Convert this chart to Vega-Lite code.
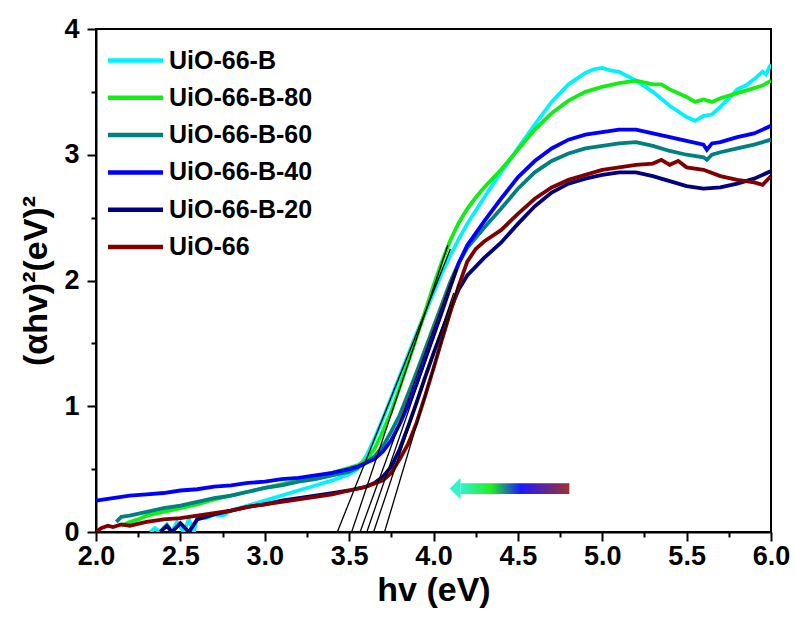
{
"$schema":"https://vega.github.io/schema/vega-lite/v6.json",
"width":675,"height":503,
"autosize":"none",
"padding":{"left":96,"top":29,"right":24,"bottom":87},
"background":"white",
"config":{"view":{"stroke":"black","strokeWidth":2},"font":"Liberation Sans"},
"datasets":{
"curves":[
{"s":"UiO-66-B","x":2.32,"y":0},{"s":"UiO-66-B","x":2.35,"y":0.03},{"s":"UiO-66-B","x":2.38,"y":0},{"s":"UiO-66-B","x":2.42,"y":0.06},{"s":"UiO-66-B","x":2.45,"y":0},{"s":"UiO-66-B","x":2.48,"y":0.08},{"s":"UiO-66-B","x":2.52,"y":0},{"s":"UiO-66-B","x":2.55,"y":0.1},{"s":"UiO-66-B","x":2.58,"y":0},{"s":"UiO-66-B","x":2.6,"y":0.12},{"s":"UiO-66-B","x":2.65,"y":0.11},{"s":"UiO-66-B","x":2.7,"y":0.14},{"s":"UiO-66-B","x":2.75,"y":0.13},{"s":"UiO-66-B","x":2.8,"y":0.17},{"s":"UiO-66-B","x":2.85,"y":0.19},{"s":"UiO-66-B","x":2.9,"y":0.21},{"s":"UiO-66-B","x":2.95,"y":0.23},{"s":"UiO-66-B","x":3.0,"y":0.25},{"s":"UiO-66-B","x":3.1,"y":0.29},{"s":"UiO-66-B","x":3.2,"y":0.33},{"s":"UiO-66-B","x":3.3,"y":0.37},{"s":"UiO-66-B","x":3.4,"y":0.41},{"s":"UiO-66-B","x":3.5,"y":0.46},{"s":"UiO-66-B","x":3.55,"y":0.5},{"s":"UiO-66-B","x":3.6,"y":0.6},{"s":"UiO-66-B","x":3.65,"y":0.74},{"s":"UiO-66-B","x":3.7,"y":0.9},{"s":"UiO-66-B","x":3.75,"y":1.07},{"s":"UiO-66-B","x":3.8,"y":1.24},{"s":"UiO-66-B","x":3.85,"y":1.41},{"s":"UiO-66-B","x":3.9,"y":1.58},{"s":"UiO-66-B","x":3.95,"y":1.74},{"s":"UiO-66-B","x":4.0,"y":1.9},{"s":"UiO-66-B","x":4.05,"y":2.06},{"s":"UiO-66-B","x":4.1,"y":2.2},{"s":"UiO-66-B","x":4.15,"y":2.33},{"s":"UiO-66-B","x":4.2,"y":2.45},{"s":"UiO-66-B","x":4.3,"y":2.66},{"s":"UiO-66-B","x":4.4,"y":2.86},{"s":"UiO-66-B","x":4.5,"y":3.05},{"s":"UiO-66-B","x":4.6,"y":3.24},{"s":"UiO-66-B","x":4.7,"y":3.42},{"s":"UiO-66-B","x":4.8,"y":3.56},{"s":"UiO-66-B","x":4.9,"y":3.65},{"s":"UiO-66-B","x":4.95,"y":3.68},{"s":"UiO-66-B","x":5.0,"y":3.69},{"s":"UiO-66-B","x":5.05,"y":3.67},{"s":"UiO-66-B","x":5.1,"y":3.66},{"s":"UiO-66-B","x":5.2,"y":3.59},{"s":"UiO-66-B","x":5.3,"y":3.5},{"s":"UiO-66-B","x":5.4,"y":3.39},{"s":"UiO-66-B","x":5.5,"y":3.3},{"s":"UiO-66-B","x":5.55,"y":3.27},{"s":"UiO-66-B","x":5.6,"y":3.31},{"s":"UiO-66-B","x":5.65,"y":3.32},{"s":"UiO-66-B","x":5.7,"y":3.38},{"s":"UiO-66-B","x":5.76,"y":3.46},{"s":"UiO-66-B","x":5.8,"y":3.52},{"s":"UiO-66-B","x":5.85,"y":3.55},{"s":"UiO-66-B","x":5.9,"y":3.6},{"s":"UiO-66-B","x":5.95,"y":3.66},{"s":"UiO-66-B","x":5.97,"y":3.64},{"s":"UiO-66-B","x":6.0,"y":3.72},
{"s":"UiO-66-B-80","x":2.15,"y":0.05},{"s":"UiO-66-B-80","x":2.2,"y":0.08},{"s":"UiO-66-B-80","x":2.25,"y":0.1},{"s":"UiO-66-B-80","x":2.3,"y":0.13},{"s":"UiO-66-B-80","x":2.4,"y":0.16},{"s":"UiO-66-B-80","x":2.5,"y":0.19},{"s":"UiO-66-B-80","x":2.6,"y":0.22},{"s":"UiO-66-B-80","x":2.7,"y":0.26},{"s":"UiO-66-B-80","x":2.8,"y":0.29},{"s":"UiO-66-B-80","x":2.9,"y":0.32},{"s":"UiO-66-B-80","x":3.0,"y":0.35},{"s":"UiO-66-B-80","x":3.1,"y":0.38},{"s":"UiO-66-B-80","x":3.2,"y":0.41},{"s":"UiO-66-B-80","x":3.3,"y":0.44},{"s":"UiO-66-B-80","x":3.4,"y":0.47},{"s":"UiO-66-B-80","x":3.5,"y":0.51},{"s":"UiO-66-B-80","x":3.55,"y":0.53},{"s":"UiO-66-B-80","x":3.6,"y":0.57},{"s":"UiO-66-B-80","x":3.65,"y":0.66},{"s":"UiO-66-B-80","x":3.7,"y":0.8},{"s":"UiO-66-B-80","x":3.75,"y":0.96},{"s":"UiO-66-B-80","x":3.8,"y":1.15},{"s":"UiO-66-B-80","x":3.85,"y":1.35},{"s":"UiO-66-B-80","x":3.9,"y":1.55},{"s":"UiO-66-B-80","x":3.95,"y":1.75},{"s":"UiO-66-B-80","x":4.0,"y":1.96},{"s":"UiO-66-B-80","x":4.05,"y":2.15},{"s":"UiO-66-B-80","x":4.1,"y":2.32},{"s":"UiO-66-B-80","x":4.15,"y":2.46},{"s":"UiO-66-B-80","x":4.2,"y":2.57},{"s":"UiO-66-B-80","x":4.25,"y":2.66},{"s":"UiO-66-B-80","x":4.3,"y":2.74},{"s":"UiO-66-B-80","x":4.4,"y":2.88},{"s":"UiO-66-B-80","x":4.5,"y":3.04},{"s":"UiO-66-B-80","x":4.6,"y":3.2},{"s":"UiO-66-B-80","x":4.7,"y":3.33},{"s":"UiO-66-B-80","x":4.8,"y":3.43},{"s":"UiO-66-B-80","x":4.9,"y":3.5},{"s":"UiO-66-B-80","x":5.0,"y":3.54},{"s":"UiO-66-B-80","x":5.1,"y":3.57},{"s":"UiO-66-B-80","x":5.2,"y":3.59},{"s":"UiO-66-B-80","x":5.3,"y":3.56},{"s":"UiO-66-B-80","x":5.35,"y":3.56},{"s":"UiO-66-B-80","x":5.4,"y":3.52},{"s":"UiO-66-B-80","x":5.5,"y":3.46},{"s":"UiO-66-B-80","x":5.55,"y":3.42},{"s":"UiO-66-B-80","x":5.6,"y":3.44},{"s":"UiO-66-B-80","x":5.65,"y":3.42},{"s":"UiO-66-B-80","x":5.7,"y":3.45},{"s":"UiO-66-B-80","x":5.8,"y":3.49},{"s":"UiO-66-B-80","x":5.9,"y":3.53},{"s":"UiO-66-B-80","x":5.95,"y":3.55},{"s":"UiO-66-B-80","x":6.0,"y":3.59},
{"s":"UiO-66-B-60","x":2.12,"y":0.08},{"s":"UiO-66-B-60","x":2.15,"y":0.12},{"s":"UiO-66-B-60","x":2.2,"y":0.13},{"s":"UiO-66-B-60","x":2.3,"y":0.16},{"s":"UiO-66-B-60","x":2.4,"y":0.19},{"s":"UiO-66-B-60","x":2.5,"y":0.21},{"s":"UiO-66-B-60","x":2.6,"y":0.24},{"s":"UiO-66-B-60","x":2.7,"y":0.27},{"s":"UiO-66-B-60","x":2.8,"y":0.29},{"s":"UiO-66-B-60","x":2.9,"y":0.32},{"s":"UiO-66-B-60","x":3.0,"y":0.35},{"s":"UiO-66-B-60","x":3.1,"y":0.37},{"s":"UiO-66-B-60","x":3.2,"y":0.4},{"s":"UiO-66-B-60","x":3.3,"y":0.42},{"s":"UiO-66-B-60","x":3.4,"y":0.45},{"s":"UiO-66-B-60","x":3.5,"y":0.48},{"s":"UiO-66-B-60","x":3.55,"y":0.51},{"s":"UiO-66-B-60","x":3.6,"y":0.55},{"s":"UiO-66-B-60","x":3.65,"y":0.6},{"s":"UiO-66-B-60","x":3.7,"y":0.68},{"s":"UiO-66-B-60","x":3.75,"y":0.8},{"s":"UiO-66-B-60","x":3.8,"y":0.93},{"s":"UiO-66-B-60","x":3.85,"y":1.1},{"s":"UiO-66-B-60","x":3.9,"y":1.27},{"s":"UiO-66-B-60","x":3.95,"y":1.45},{"s":"UiO-66-B-60","x":4.0,"y":1.63},{"s":"UiO-66-B-60","x":4.05,"y":1.81},{"s":"UiO-66-B-60","x":4.1,"y":1.99},{"s":"UiO-66-B-60","x":4.15,"y":2.14},{"s":"UiO-66-B-60","x":4.2,"y":2.26},{"s":"UiO-66-B-60","x":4.3,"y":2.42},{"s":"UiO-66-B-60","x":4.4,"y":2.57},{"s":"UiO-66-B-60","x":4.5,"y":2.73},{"s":"UiO-66-B-60","x":4.6,"y":2.86},{"s":"UiO-66-B-60","x":4.7,"y":2.95},{"s":"UiO-66-B-60","x":4.8,"y":3.01},{"s":"UiO-66-B-60","x":4.9,"y":3.05},{"s":"UiO-66-B-60","x":5.0,"y":3.07},{"s":"UiO-66-B-60","x":5.1,"y":3.09},{"s":"UiO-66-B-60","x":5.2,"y":3.1},{"s":"UiO-66-B-60","x":5.3,"y":3.07},{"s":"UiO-66-B-60","x":5.4,"y":3.03},{"s":"UiO-66-B-60","x":5.5,"y":3.0},{"s":"UiO-66-B-60","x":5.6,"y":2.98},{"s":"UiO-66-B-60","x":5.62,"y":2.96},{"s":"UiO-66-B-60","x":5.65,"y":3.0},{"s":"UiO-66-B-60","x":5.7,"y":3.02},{"s":"UiO-66-B-60","x":5.8,"y":3.05},{"s":"UiO-66-B-60","x":5.9,"y":3.08},{"s":"UiO-66-B-60","x":6.0,"y":3.12},
{"s":"UiO-66-B-40","x":2.0,"y":0.25},{"s":"UiO-66-B-40","x":2.1,"y":0.27},{"s":"UiO-66-B-40","x":2.2,"y":0.29},{"s":"UiO-66-B-40","x":2.3,"y":0.3},{"s":"UiO-66-B-40","x":2.4,"y":0.31},{"s":"UiO-66-B-40","x":2.5,"y":0.33},{"s":"UiO-66-B-40","x":2.6,"y":0.34},{"s":"UiO-66-B-40","x":2.7,"y":0.36},{"s":"UiO-66-B-40","x":2.8,"y":0.37},{"s":"UiO-66-B-40","x":2.9,"y":0.39},{"s":"UiO-66-B-40","x":3.0,"y":0.4},{"s":"UiO-66-B-40","x":3.1,"y":0.42},{"s":"UiO-66-B-40","x":3.2,"y":0.43},{"s":"UiO-66-B-40","x":3.3,"y":0.45},{"s":"UiO-66-B-40","x":3.4,"y":0.47},{"s":"UiO-66-B-40","x":3.5,"y":0.5},{"s":"UiO-66-B-40","x":3.55,"y":0.52},{"s":"UiO-66-B-40","x":3.6,"y":0.55},{"s":"UiO-66-B-40","x":3.65,"y":0.58},{"s":"UiO-66-B-40","x":3.7,"y":0.64},{"s":"UiO-66-B-40","x":3.75,"y":0.73},{"s":"UiO-66-B-40","x":3.8,"y":0.86},{"s":"UiO-66-B-40","x":3.85,"y":1.01},{"s":"UiO-66-B-40","x":3.9,"y":1.18},{"s":"UiO-66-B-40","x":3.95,"y":1.37},{"s":"UiO-66-B-40","x":4.0,"y":1.56},{"s":"UiO-66-B-40","x":4.05,"y":1.75},{"s":"UiO-66-B-40","x":4.1,"y":1.95},{"s":"UiO-66-B-40","x":4.15,"y":2.14},{"s":"UiO-66-B-40","x":4.2,"y":2.28},{"s":"UiO-66-B-40","x":4.3,"y":2.47},{"s":"UiO-66-B-40","x":4.4,"y":2.65},{"s":"UiO-66-B-40","x":4.5,"y":2.82},{"s":"UiO-66-B-40","x":4.6,"y":2.95},{"s":"UiO-66-B-40","x":4.7,"y":3.05},{"s":"UiO-66-B-40","x":4.8,"y":3.12},{"s":"UiO-66-B-40","x":4.9,"y":3.16},{"s":"UiO-66-B-40","x":5.0,"y":3.18},{"s":"UiO-66-B-40","x":5.1,"y":3.2},{"s":"UiO-66-B-40","x":5.2,"y":3.2},{"s":"UiO-66-B-40","x":5.3,"y":3.17},{"s":"UiO-66-B-40","x":5.4,"y":3.14},{"s":"UiO-66-B-40","x":5.5,"y":3.11},{"s":"UiO-66-B-40","x":5.6,"y":3.08},{"s":"UiO-66-B-40","x":5.62,"y":3.04},{"s":"UiO-66-B-40","x":5.65,"y":3.09},{"s":"UiO-66-B-40","x":5.7,"y":3.1},{"s":"UiO-66-B-40","x":5.8,"y":3.14},{"s":"UiO-66-B-40","x":5.9,"y":3.17},{"s":"UiO-66-B-40","x":6.0,"y":3.23},
{"s":"UiO-66-B-20","x":2.38,"y":0},{"s":"UiO-66-B-20","x":2.42,"y":0.05},{"s":"UiO-66-B-20","x":2.45,"y":0},{"s":"UiO-66-B-20","x":2.5,"y":0.07},{"s":"UiO-66-B-20","x":2.55,"y":0},{"s":"UiO-66-B-20","x":2.6,"y":0.1},{"s":"UiO-66-B-20","x":2.7,"y":0.14},{"s":"UiO-66-B-20","x":2.8,"y":0.17},{"s":"UiO-66-B-20","x":2.9,"y":0.2},{"s":"UiO-66-B-20","x":3.0,"y":0.22},{"s":"UiO-66-B-20","x":3.1,"y":0.25},{"s":"UiO-66-B-20","x":3.2,"y":0.27},{"s":"UiO-66-B-20","x":3.3,"y":0.29},{"s":"UiO-66-B-20","x":3.4,"y":0.31},{"s":"UiO-66-B-20","x":3.5,"y":0.33},{"s":"UiO-66-B-20","x":3.6,"y":0.36},{"s":"UiO-66-B-20","x":3.65,"y":0.39},{"s":"UiO-66-B-20","x":3.7,"y":0.44},{"s":"UiO-66-B-20","x":3.75,"y":0.52},{"s":"UiO-66-B-20","x":3.8,"y":0.66},{"s":"UiO-66-B-20","x":3.85,"y":0.84},{"s":"UiO-66-B-20","x":3.9,"y":1.03},{"s":"UiO-66-B-20","x":3.95,"y":1.23},{"s":"UiO-66-B-20","x":4.0,"y":1.42},{"s":"UiO-66-B-20","x":4.05,"y":1.6},{"s":"UiO-66-B-20","x":4.1,"y":1.77},{"s":"UiO-66-B-20","x":4.15,"y":1.93},{"s":"UiO-66-B-20","x":4.2,"y":2.04},{"s":"UiO-66-B-20","x":4.3,"y":2.18},{"s":"UiO-66-B-20","x":4.4,"y":2.3},{"s":"UiO-66-B-20","x":4.5,"y":2.45},{"s":"UiO-66-B-20","x":4.6,"y":2.59},{"s":"UiO-66-B-20","x":4.7,"y":2.7},{"s":"UiO-66-B-20","x":4.8,"y":2.77},{"s":"UiO-66-B-20","x":4.9,"y":2.81},{"s":"UiO-66-B-20","x":5.0,"y":2.84},{"s":"UiO-66-B-20","x":5.1,"y":2.86},{"s":"UiO-66-B-20","x":5.2,"y":2.86},{"s":"UiO-66-B-20","x":5.3,"y":2.83},{"s":"UiO-66-B-20","x":5.4,"y":2.79},{"s":"UiO-66-B-20","x":5.5,"y":2.75},{"s":"UiO-66-B-20","x":5.6,"y":2.73},{"s":"UiO-66-B-20","x":5.7,"y":2.74},{"s":"UiO-66-B-20","x":5.8,"y":2.77},{"s":"UiO-66-B-20","x":5.9,"y":2.81},{"s":"UiO-66-B-20","x":6.0,"y":2.87},
{"s":"UiO-66","x":2.0,"y":0},{"s":"UiO-66","x":2.03,"y":0.03},{"s":"UiO-66","x":2.07,"y":0.05},{"s":"UiO-66","x":2.1,"y":0.04},{"s":"UiO-66","x":2.15,"y":0.06},{"s":"UiO-66","x":2.2,"y":0.05},{"s":"UiO-66","x":2.3,"y":0.08},{"s":"UiO-66","x":2.4,"y":0.1},{"s":"UiO-66","x":2.5,"y":0.11},{"s":"UiO-66","x":2.6,"y":0.13},{"s":"UiO-66","x":2.7,"y":0.15},{"s":"UiO-66","x":2.8,"y":0.17},{"s":"UiO-66","x":2.9,"y":0.2},{"s":"UiO-66","x":3.0,"y":0.22},{"s":"UiO-66","x":3.1,"y":0.24},{"s":"UiO-66","x":3.2,"y":0.26},{"s":"UiO-66","x":3.3,"y":0.28},{"s":"UiO-66","x":3.4,"y":0.3},{"s":"UiO-66","x":3.5,"y":0.33},{"s":"UiO-66","x":3.6,"y":0.36},{"s":"UiO-66","x":3.7,"y":0.41},{"s":"UiO-66","x":3.75,"y":0.47},{"s":"UiO-66","x":3.8,"y":0.58},{"s":"UiO-66","x":3.85,"y":0.7},{"s":"UiO-66","x":3.9,"y":0.87},{"s":"UiO-66","x":3.95,"y":1.08},{"s":"UiO-66","x":4.0,"y":1.3},{"s":"UiO-66","x":4.05,"y":1.53},{"s":"UiO-66","x":4.1,"y":1.75},{"s":"UiO-66","x":4.15,"y":1.96},{"s":"UiO-66","x":4.2,"y":2.15},{"s":"UiO-66","x":4.25,"y":2.25},{"s":"UiO-66","x":4.3,"y":2.31},{"s":"UiO-66","x":4.4,"y":2.4},{"s":"UiO-66","x":4.5,"y":2.53},{"s":"UiO-66","x":4.6,"y":2.65},{"s":"UiO-66","x":4.7,"y":2.74},{"s":"UiO-66","x":4.8,"y":2.8},{"s":"UiO-66","x":4.9,"y":2.84},{"s":"UiO-66","x":5.0,"y":2.88},{"s":"UiO-66","x":5.1,"y":2.9},{"s":"UiO-66","x":5.2,"y":2.92},{"s":"UiO-66","x":5.3,"y":2.93},{"s":"UiO-66","x":5.35,"y":2.96},{"s":"UiO-66","x":5.4,"y":2.92},{"s":"UiO-66","x":5.45,"y":2.95},{"s":"UiO-66","x":5.5,"y":2.9},{"s":"UiO-66","x":5.6,"y":2.88},{"s":"UiO-66","x":5.7,"y":2.83},{"s":"UiO-66","x":5.8,"y":2.8},{"s":"UiO-66","x":5.9,"y":2.78},{"s":"UiO-66","x":5.95,"y":2.76},{"s":"UiO-66","x":6.0,"y":2.83}
],
"tangents":[
{"t":"t1","x":3.43,"y":0},{"t":"t1","x":4.1,"y":2.25},
{"t":"t2","x":3.515,"y":0},{"t":"t2","x":4.085,"y":2.28},
{"t":"t3","x":3.565,"y":0},{"t":"t3","x":4.13,"y":2.09},
{"t":"t4","x":3.605,"y":0},{"t":"t4","x":4.14,"y":2.09},
{"t":"t5","x":3.645,"y":0},{"t":"t5","x":4.12,"y":1.9},
{"t":"t6","x":3.71,"y":0},{"t":"t6","x":4.15,"y":1.98}
],
"arrow":[{"x":4.16,"x2":4.805,"y":0.302,"y2":0.387,"ym":0.345}]
},
"encoding":{
"x":{"field":"x","type":"quantitative","scale":{"domain":[2,6],"nice":false,"zero":false},
 "axis":{"title":"hv (eV)","titleFontSize":34,"titleFontWeight":"bold","titleColor":"black","titlePadding":4,
  "values":[2,2.25,2.5,2.75,3,3.25,3.5,3.75,4,4.25,4.5,4.75,5,5.25,5.5,5.75,6],
  "labelExpr":"abs(datum.value*2-round(datum.value*2))<0.001 ? format(datum.value,'.1f') : ''",
  "labelFontSize":27,"labelFontWeight":"bold","labelColor":"black","labelPadding":2,"labelOverlap":false,"labelFlush":false,
  "domainColor":"black","domainWidth":2,"tickColor":"black","tickWidth":2,
  "tickSize":{"condition":{"test":"abs(datum.value*2-round(datum.value*2))<0.001","value":9},"value":5},
  "grid":false}},
"y":{"field":"y","type":"quantitative","scale":{"domain":[0,4],"nice":false},
 "axis":{"title":"(αhv)²(eV)²","titleFontSize":34,"titleFontWeight":"bold","titleColor":"black","titlePadding":10,
  "values":[0,0.5,1,1.5,2,2.5,3,3.5,4],
  "labelExpr":"abs(datum.value-round(datum.value))<0.001 ? format(datum.value,'d') : ''",
  "labelFontSize":27,"labelFontWeight":"bold","labelColor":"black","labelPadding":8,"labelOverlap":false,"labelFlush":false,
  "domainColor":"black","domainWidth":2,"tickColor":"black","tickWidth":2,
  "tickSize":{"condition":{"test":"abs(datum.value-round(datum.value))<0.001","value":9},"value":5},
  "grid":false}}
},
"layer":[
{"data":{"name":"curves"},"mark":{"type":"line","strokeWidth":3.8,"clip":true},
 "encoding":{"color":{"field":"s","type":"nominal","sort":null,
  "scale":{"domain":["UiO-66-B","UiO-66-B-80","UiO-66-B-60","UiO-66-B-40","UiO-66-B-20","UiO-66"],"range":["#00f2ff","#11ee11","#008080","#0000ff","#000080","#800000"]},
  "legend":{"title":null,"orient":"none","legendX":26,"legendY":18,"symbolType":"M-2.5,0H2.5","symbolStrokeWidth":4.5,"symbolSize":484,
   "labelFontSize":25,"labelFontWeight":"bold","labelColor":"black","labelOffset":20,"rowPadding":10.3,"labelLimit":400}}}},
{"data":{"name":"tangents"},"mark":{"type":"line","color":"black","strokeWidth":1.3,"clip":true},
 "encoding":{"detail":{"field":"t","type":"nominal"}}},
{"data":{"name":"arrow"},"mark":{"type":"rect","color":{"gradient":"linear","x1":0,"x2":1,"y1":0,"y2":0,"stops":[{"offset":0,"color":"#33f2cc"},{"offset":0.28,"color":"#22ee22"},{"offset":0.55,"color":"#1a1aff"},{"offset":1,"color":"#a33030"}]}},
 "encoding":{"x2":{"field":"x2"},"y2":{"field":"y2"}}},
{"data":{"name":"arrow"},"mark":{"type":"point","filled":true,"opacity":1,"color":"#33f2cc","shape":"M0,-1L-1,0L0,1Z","size":460},
 "encoding":{"y":{"field":"ym","type":"quantitative"}}}
]
}
